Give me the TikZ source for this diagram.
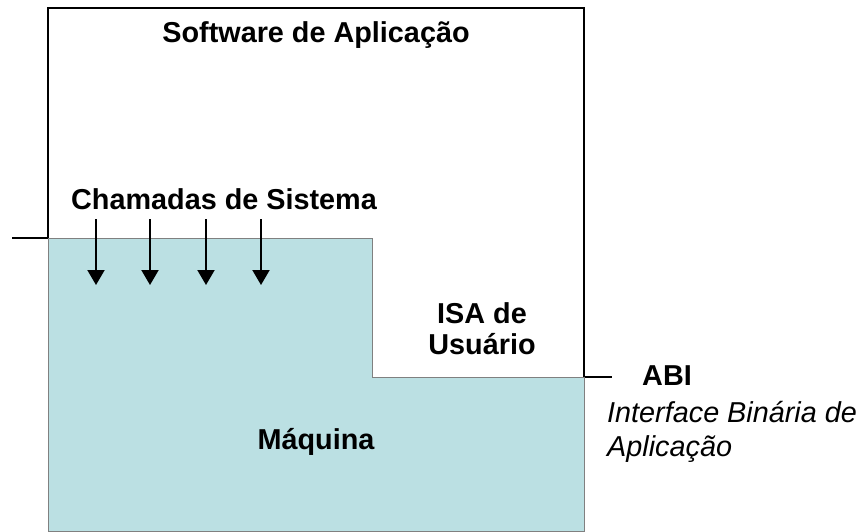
\documentclass[tikz,border=0pt]{standalone}
\usepackage{fontspec}
\setmainfont{Liberation Sans}
\usepackage{tikz}
\usetikzlibrary{arrows.meta}

\definecolor{maquina}{RGB}{187,224,227}

\tikzset{
  rotulo/.style={font=\fontsize{28.8}{31}\selectfont\bfseries, inner sep=0pt, anchor=base},
  nota/.style={font=\fontsize{28.8}{34}\selectfont\itshape, inner sep=0pt, anchor=base west, align=left},
  borda/.style={line width=1.4pt, black},
  chamada/.style={line width=2pt, -{Triangle[length=15pt,width=17pt]}}
}

\begin{document}
\begin{tikzpicture}[x=1pt,y=-1pt]
      \useasboundingbox (0,0) rectangle (861,531);

      % Software de Aplicacao
      \draw[borda] (48,238) -- (48,8) -- (584,8) -- (584,377);

      % Maquina
      \draw[fill=maquina, draw=gray, line width=0.8pt]
        (48,238) -- (372,238) -- (372,377) -- (584,377) -- (584,531) -- (48,531) -- cycle;

      % Interfaces
      \coordinate (sisA) at (12,238);
      \coordinate (sisB) at (48,238);
      \coordinate (abiA) at (585,377);
      \coordinate (abiB) at (612,377);
      \draw[borda] (sisA) -- (sisB);
      \draw[borda] (abiA) -- (abiB);

      % Labels (multi-line nodes sit on their last baseline)
      \node[rotulo] (soft) at (316,42) {Software de Aplicação};
      \node[rotulo] (cham) at (224,209) {Chamadas de Sistema};
      \node[rotulo, align=center] (isa) at (482,354) {ISA de\\Usuário};
      \node[rotulo] (maq) at (316,449) {Máquina};
      \node[rotulo, anchor=base west] (abi) at (642,385) {ABI};
      \node[nota] (abitxt) at (607,456) {Interface Binária de\\Aplicação};

      % Chamadas de sistema
      \foreach \x [count=\i] in {96,150,206,261} {
        \coordinate (c\i a) at (\x,219);
        \coordinate (c\i b) at (\x,285);
        \draw[chamada] (c\i a) -- (c\i b);
      }
  \end{tikzpicture}
\end{document}
